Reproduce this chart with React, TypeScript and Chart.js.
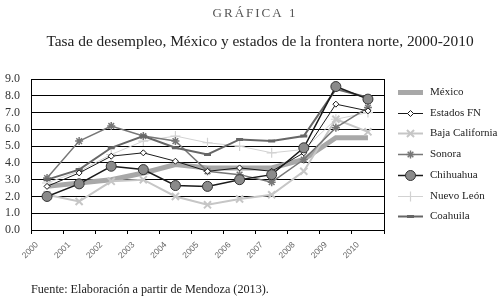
import React, { useEffect, useRef } from "react";
import { Chart, registerables } from "chart.js";

Chart.register(...registerables);

const years = ["2000", "2001", "2002", "2003", "2004", "2005", "2006", "2007", "2008", "2009", "2010"];
const mexico = [2.6, 2.8, 3.0, 3.4, 3.9, 3.7, 3.7, 3.7, 4.2, 5.5, 5.5];
const estadosFN = [2.6, 3.4, 4.4, 4.6, 4.1, 3.5, 3.7, 3.5, 4.6, 7.5, 7.1];
const bajaCalifornia = [2.1, 1.7, 2.9, 3.0, 2.0, 1.5, 1.85, 2.1, 3.5, 6.6, 5.85];
const sonora = [3.1, 5.3, 6.2, 5.6, 5.3, 3.5, 3.3, 2.85, 4.2, 6.1, 7.3];
const chihuahua = [2.0, 2.75, 3.8, 3.6, 2.65, 2.6, 3.0, 3.3, 4.9, 8.55, 7.8];
const nuevoLeon = [2.8, 3.5, 4.5, 5.3, 5.6, 5.2, 5.0, 4.6, 4.8, 6.6, 7.0];
const coahuila = [3.0, 3.6, 4.9, 5.6, 4.9, 4.5, 5.4, 5.3, 5.6, 8.4, 7.9];

const chartTitle = "GRÁFICA 1";
const chartSubtitle = "Tasa de desempleo, México y estados de la frontera norte, 2000-2010";
const footerText = "Fuente: Elaboración a partir de Mendoza (2013).";

const SERIF = "'Liberation Serif', 'DejaVu Serif', serif";

function drawMarker(ctx: CanvasRenderingContext2D, style: string, x: number, y: number, r: number) {
  ctx.beginPath();
  const d = r * Math.SQRT1_2;
  switch (style) {
    case "rectRot":
      ctx.moveTo(x, y - r);
      ctx.lineTo(x + r, y);
      ctx.lineTo(x, y + r);
      ctx.lineTo(x - r, y);
      ctx.closePath();
      ctx.fill();
      ctx.stroke();
      break;
    case "circle":
      ctx.arc(x, y, r, 0, Math.PI * 2);
      ctx.fill();
      ctx.stroke();
      break;
    case "crossRot":
      ctx.moveTo(x - d, y - d); ctx.lineTo(x + d, y + d);
      ctx.moveTo(x + d, y - d); ctx.lineTo(x - d, y + d);
      ctx.stroke();
      break;
    case "cross":
      ctx.moveTo(x - r, y); ctx.lineTo(x + r, y);
      ctx.moveTo(x, y - r); ctx.lineTo(x, y + r);
      ctx.stroke();
      break;
    case "star":
      ctx.moveTo(x - r, y); ctx.lineTo(x + r, y);
      ctx.moveTo(x, y - r); ctx.lineTo(x, y + r);
      ctx.moveTo(x - d, y - d); ctx.lineTo(x + d, y + d);
      ctx.moveTo(x + d, y - d); ctx.lineTo(x - d, y + d);
      ctx.stroke();
      break;
    case "line":
      ctx.moveTo(x - r, y); ctx.lineTo(x + r, y);
      ctx.stroke();
      break;
  }
}

const decorPlugin = {
  id: "decor",
  afterDraw(chart: any) {
    const ctx: CanvasRenderingContext2D = chart.ctx;
    const area = chart.chartArea;
    ctx.save();
    // right border of plot
    ctx.strokeStyle = "#000";
    ctx.lineWidth = 1;
    ctx.beginPath();
    ctx.moveTo(Math.round(area.right) + 0.5, area.top);
    ctx.lineTo(Math.round(area.right) + 0.5, area.bottom);
    ctx.stroke();

    // titles
    ctx.textAlign = "center";
    ctx.textBaseline = "middle";
    ctx.fillStyle = "#555";
    ctx.font = `13px ${SERIF}`;
    (ctx as any).letterSpacing = "2px";
    ctx.fillText(chartTitle, 255, 14);
    (ctx as any).letterSpacing = "0px";
    ctx.fillStyle = "#222";
    ctx.font = `15.4px ${SERIF}`;
    ctx.fillText(chartSubtitle, 260, 42);

    // footer
    ctx.textAlign = "left";
    ctx.fillStyle = "#222";
    ctx.font = `12.2px ${SERIF}`;
    ctx.fillText(footerText, 31, 290);

    // legend
    const x0 = 398, x1 = 423, tx = 430;
    const y0 = 92, dy = 20.7;
    chart.data.datasets.forEach((ds: any, i: number) => {
      const y = Math.round(y0 + i * dy) + 0.5;
      ctx.strokeStyle = ds.borderColor;
      ctx.lineWidth = ds.borderWidth;
      ctx.beginPath();
      ctx.moveTo(x0, y);
      ctx.lineTo(x1, y);
      ctx.stroke();
      if (ds.pointRadius > 0) {
        ctx.fillStyle = ds.pointBackgroundColor;
        ctx.strokeStyle = ds.pointBorderColor;
        ctx.lineWidth = ds.pointBorderWidth;
        drawMarker(ctx, ds.pointStyle, (x0 + x1) / 2, y, ds.pointRadius);
      }
      ctx.fillStyle = "#222";
      ctx.font = `11px ${SERIF}`;
      ctx.textAlign = "left";
      ctx.textBaseline = "middle";
      ctx.fillText(ds.label, tx, y);
    });
    ctx.restore();
  },
};

export default function App() {
  const ref = useRef<HTMLCanvasElement | null>(null);
  useEffect(() => {
    if (!ref.current) return;
    const mk = (
      label: string,
      data: number[],
      color: string,
      width: number,
      pointStyle: string,
      radius: number,
      pointFill: string,
      pointBorder: string,
      pointBorderWidth: number,
      order: number
    ) => ({
      label,
      data,
      borderColor: color,
      borderWidth: width,
      backgroundColor: color,
      pointStyle,
      pointRadius: radius,
      pointHoverRadius: radius,
      pointBackgroundColor: pointFill,
      pointBorderColor: pointBorder,
      pointBorderWidth,
      tension: 0,
      fill: false,
      order,
    });
    const chart = new Chart(ref.current, {
      type: "line",
      data: {
        labels: years,
        datasets: [
          mk("México", mexico, "#a8a8a8", 5, "circle", 0, "#a8a8a8", "#a8a8a8", 0, 5),
          mk("Estados FN", estadosFN, "#1a1a1a", 1, "rectRot", 3, "#ffffff", "#1a1a1a", 1, 0),
          mk("Baja California", bajaCalifornia, "#c6c6c6", 2, "crossRot", 5, "#c6c6c6", "#c6c6c6", 2, 3),
          mk("Sonora", sonora, "#777777", 1.5, "star", 4, "#777777", "#777777", 1.5, 2),
          mk("Chihuahua", chihuahua, "#1a1a1a", 1.5, "circle", 5, "#8a8a8a", "#333333", 1, -1),
          mk("Nuevo León", nuevoLeon, "#d2d2d2", 1, "cross", 5, "#d2d2d2", "#d2d2d2", 1.2, 4),
          mk("Coahuila", coahuila, "#666666", 2, "line", 3.5, "#666666", "#666666", 3, 1),
        ] as any,
      },
      options: {
        animation: false,
        responsive: false,
        devicePixelRatio: 1,
        layout: { padding: { top: 79, left: 0, right: 118, bottom: 34 } },
        plugins: {
          legend: { display: false },
          title: { display: false },
          tooltip: { enabled: false },
        },
        scales: {
          x: {
            type: "category",
            offset: true,
            afterFit: (s: any) => { s.height = 40; },
            grid: {
              offset: true,
              drawOnChartArea: false,
              drawTicks: true,
              tickLength: 4,
              color: "#000",
            },
            border: { display: true, color: "#000", width: 1 },
            ticks: {
              maxRotation: 45,
              minRotation: 45,
              autoSkip: false,
              labelOffset: -10,
              padding: 6,
              color: "#666",
              font: { family: "'Liberation Sans', Arial, sans-serif", size: 8.5 },
            },
          },
          y: {
            min: 0,
            max: 9,
            afterFit: (s: any) => { s.width = 31; },
            grid: { color: "#000", drawTicks: false, lineWidth: 1 },
            border: { display: true, color: "#000", width: 1 },
            ticks: {
              stepSize: 1,
              autoSkip: false,
              padding: 11,
              color: "#333",
              font: { family: SERIF, size: 12 },
              callback: (v: any) => Number(v).toFixed(1),
            },
          },
        },
      } as any,
      plugins: [decorPlugin],
    });
    return () => chart.destroy();
  }, []);
  return (
    <div style={{ position: "fixed", left: 0, top: 0, width: 502, height: 304, background: "#fff" }}>
      <canvas ref={ref} width={502} height={304} style={{ width: 502, height: 304 }} />
    </div>
  );
}
